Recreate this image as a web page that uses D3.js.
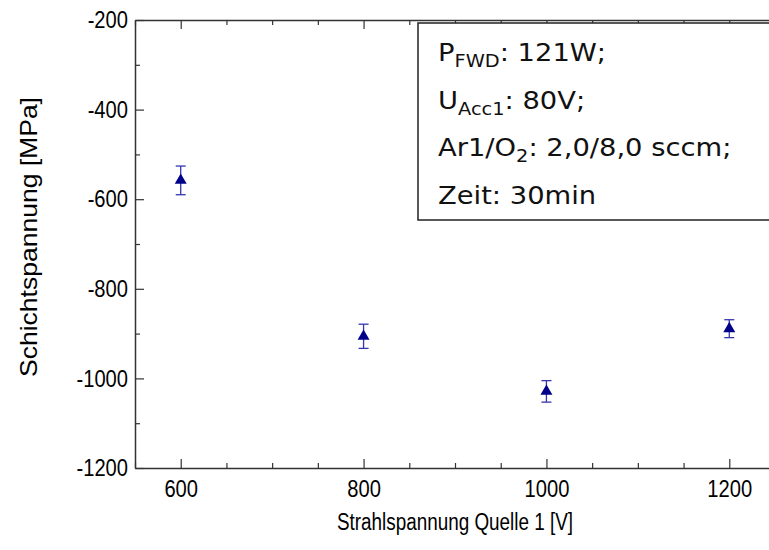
<!DOCTYPE html>
<html><head><meta charset="utf-8">
<script src="https://cdn.jsdelivr.net/npm/d3@7"></script>
<style>body{margin:0;background:#fff}svg{display:block}</style>
</head><body>
<svg id="c" width="769" height="550"></svg>
<script>
const voltages = [600, 800, 1000, 1200];
const stress = [-558, -906, -1029, -889];
const stressErr = [32, 27, 24, 20];
const xTicks = [600, 800, 1000, 1200];
const yTicks = [-1200, -1000, -800, -600, -400, -200];
const infoLines = [
  {main: "P", sub: "FWD", rest: ": 121W;"},
  {main: "U", sub: "Acc1", rest: ": 80V;"},
  {main: "Ar1/O", sub: "2", rest: ": 2,0/8,0 sccm;"},
  {main: "Zeit: 30min", sub: "", rest: ""}
];

const svg = d3.select("#c");
const L = 135, R = 775, T = 20, B = 468;
const x = d3.scaleLinear().domain([550, 1250]).range([L, R]);
const y = d3.scaleLinear().domain([-1200, -200]).range([B, T]);
const axisCol = "#333";
const font = "'Liberation Sans', Arial, sans-serif";
const fmt = d => String(d);
const SX = 0.84; // horizontal squeeze of the axis lettering

const xMinor = d3.range(550, 1251, 50).filter(v => v % 200 !== 0);
const yMinor = d3.range(-1100, -200, 200);

function styleAxis(g){
  g.select(".domain").attr("stroke", axisCol).attr("stroke-width", 1.5);
  g.selectAll(".tick line").attr("stroke", axisCol).attr("stroke-width", 1.2);
}
function minorStyle(g){ g.select(".domain").remove(); g.selectAll("line").attr("stroke", axisCol).attr("stroke-width", 1.2); }

// bottom
const gb = svg.append("g").attr("transform", `translate(0,${B})`)
  .call(d3.axisBottom(x).tickValues(xTicks).tickSize(-9).tickPadding(12).tickFormat(fmt).tickSizeOuter(0));
styleAxis(gb);
gb.attr("font-family", font).attr("font-size", 24);
gb.selectAll("text").attr("fill", "#000").attr("transform", `scale(${SX},1)`);
svg.append("g").attr("transform", `translate(0,${B})`)
  .call(d3.axisBottom(x).tickValues(xMinor).tickSize(-5).tickFormat("").tickSizeOuter(0)).call(minorStyle);

// top
const gt = svg.append("g").attr("transform", `translate(0,${T})`)
  .call(d3.axisTop(x).tickValues(xTicks).tickSize(-9).tickFormat("").tickSizeOuter(0));
styleAxis(gt);
svg.append("g").attr("transform", `translate(0,${T})`)
  .call(d3.axisTop(x).tickValues(xMinor).tickSize(-5).tickFormat("").tickSizeOuter(0)).call(minorStyle);

// left
const gl = svg.append("g").attr("transform", `translate(${L},0)`)
  .call(d3.axisLeft(y).tickValues(yTicks).tickSize(-9).tickPadding(7).tickFormat(fmt).tickSizeOuter(0));
styleAxis(gl);
gl.attr("font-family", font).attr("font-size", 24);
gl.selectAll("text").attr("fill", "#000")
  .attr("x", -7 / SX).attr("transform", `scale(${SX},1)`);
svg.append("g").attr("transform", `translate(${L},0)`)
  .call(d3.axisLeft(y).tickValues(yMinor).tickSize(-5).tickFormat("").tickSizeOuter(0)).call(minorStyle);

// axis titles
svg.append("text").attr("x", 455).attr("y", 530)
  .attr("text-anchor", "middle").attr("font-family", font).attr("font-size", 23)
  .attr("textLength", 236).attr("lengthAdjust", "spacingAndGlyphs")
  .text("Strahlspannung Quelle 1 [V]");
svg.append("text").attr("transform", `translate(37,237) rotate(-90)`)
  .attr("text-anchor", "middle").attr("font-family", font).attr("font-size", 24)
  .attr("textLength", 280).attr("lengthAdjust", "spacingAndGlyphs")
  .text("Schichtspannung [MPa]");

// error bars
const eb = svg.append("g").attr("stroke", "#3535b0").attr("stroke-width", 1.3).attr("fill", "none");
voltages.forEach((v, i) => {
  const cx = x(v), y1 = y(stress[i] + stressErr[i]), y2 = y(stress[i] - stressErr[i]);
  eb.append("line").attr("x1", cx).attr("x2", cx).attr("y1", y1).attr("y2", y2);
  eb.append("line").attr("x1", cx - 5).attr("x2", cx + 5).attr("y1", y1).attr("y2", y1);
  eb.append("line").attr("x1", cx - 5).attr("x2", cx + 5).attr("y1", y2).attr("y2", y2);
});
const tri = d3.symbol().type(d3.symbolTriangle).size(62);
svg.append("g").selectAll("path").data(voltages).join("path")
  .attr("d", tri)
  .attr("transform", (d, i) => `translate(${x(d)},${y(stress[i])})`)
  .attr("fill", "#00008b");

// info box
svg.append("rect").attr("x", 418).attr("y", 23).attr("width", 400).attr("height", 197)
  .attr("fill", "#fff").attr("stroke", "#222").attr("stroke-width", 1.5);
const bf = "'DejaVu Sans', Verdana, sans-serif";
infoLines.forEach((ln, i) => {
  const t = svg.append("text")
    .attr("transform", `translate(438,${61 + i * 47.5}) scale(1.14,1)`)
    .attr("font-family", bf).attr("font-size", 24).attr("fill", "#111");
  t.append("tspan").text(ln.main);
  if (ln.sub) {
    t.append("tspan").attr("font-size", 17).attr("dy", 6).text(ln.sub);
    t.append("tspan").attr("dy", -6).text(ln.rest);
  }
});
</script>
</body></html>
